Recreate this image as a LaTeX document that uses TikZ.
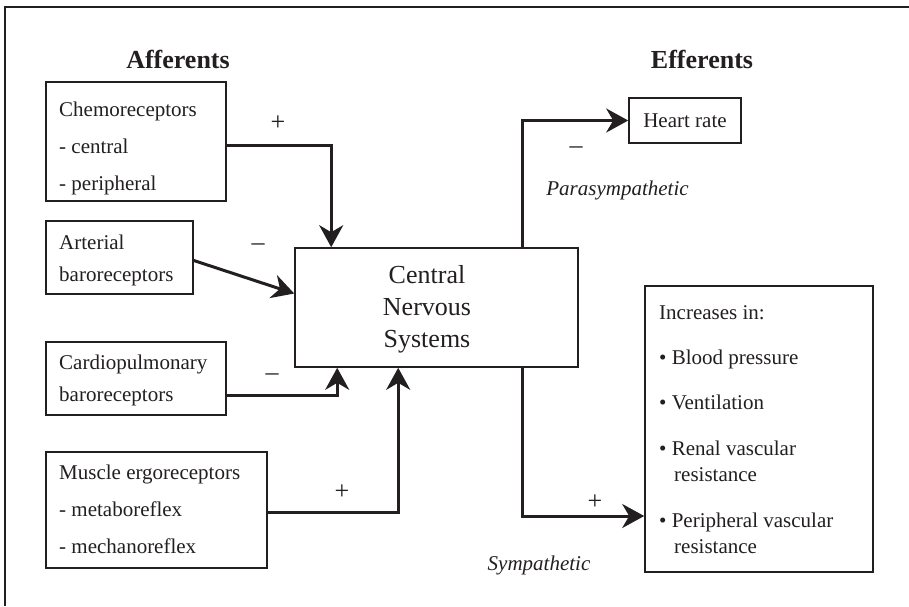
\documentclass[tikz,border=0pt]{standalone}
\usepackage{fontspec}
\setmainfont{Liberation Serif}
\usetikzlibrary{arrows.meta}
\definecolor{ink}{HTML}{231F20}
\tikzset{
  box/.style={draw=ink, line width=1.6pt, inner sep=0pt},
  lbl/.style={anchor=base west, inner sep=0pt, text=ink, font=\fontsize{21}{25}\selectfont},
  sign/.style={inner sep=0pt, text=ink, font=\fontsize{21}{25}\selectfont},
  pm/.style={inner sep=0pt, text=ink, font=\fontsize{26}{30}\selectfont},
  title/.style={inner sep=0pt, text=ink, font=\fontsize{26}{30}\selectfont\bfseries},
  conn/.style={draw=ink, line width=3pt, -{Stealth[length=22pt, width=24pt, inset=7pt]}}
}
\begin{document}
\begin{tikzpicture}[x=1pt, y=-1pt]
\useasboundingbox (0,0) rectangle (909,606);
\fill[white] (0,0) rectangle (909,606);
% frame (top and left)
\draw[ink, line width=2pt] (909,7) -- (5,7) -- (5,606);

% titles
\node[title] (aff) at (178,59) {Afferents};
\node[title] (eff) at (702,59) {Efferents};

% boxes
\node[box, minimum width=180pt, minimum height=119pt] (chemo) at (136,141.5) {};
\node[box, minimum width=147pt, minimum height=73pt] (arterial) at (119.5,257.5) {};
\node[box, minimum width=180pt, minimum height=73pt] (cardio) at (136,378.5) {};
\node[box, minimum width=221pt, minimum height=116pt] (muscle) at (156.5,510) {};
\node[box, minimum width=283pt, minimum height=119pt] (cns) at (436.5,307.5) {};
\node[box, minimum width=112pt, minimum height=45pt] (heart) at (685,120.5) {};
\node[box, minimum width=228pt, minimum height=286pt] (incr) at (759,429) {};

% box texts
\node[lbl] (t1) at (59,116) {Chemoreceptors};
\node[lbl] (t2) at (59,153) {- central};
\node[lbl] (t3) at (59,190) {- peripheral};
\node[lbl] (t4) at (59,249) {Arterial};
\node[lbl] (t5) at (59,281) {baroreceptors};
\node[lbl] (t6) at (59,369) {Cardiopulmonary};
\node[lbl] (t7) at (59,401) {baroreceptors};
\node[lbl] (t8) at (59,479) {Muscle ergoreceptors};
\node[lbl] (t9) at (59,516) {- metaboreflex};
\node[lbl] (t10) at (59,553) {- mechanoreflex};
\node[inner sep=0pt, text=ink, align=center, font=\fontsize{26}{32}\selectfont] (cnst) at (427,309) {Central\\Nervous\\Systems};
\node[sign] (hrt) at (685,121) {Heart rate};
\node[lbl] (i0) at (659,319) {Increases in:};
\node[lbl] (i1) at (659,364) {\textbullet\ Blood pressure};
\node[lbl] (i2) at (659,409) {\textbullet\ Ventilation};
\node[lbl] (i3) at (659,455) {\textbullet\ Renal vascular};
\node[lbl] (i3b) at (674,481) {resistance};
\node[lbl] (i4) at (659,527) {\textbullet\ Peripheral vascular};
\node[lbl] (i4b) at (674,553) {resistance};

% connectors
\draw[conn] ([yshift=-3.5pt]chemo.east) -| ([xshift=37pt]cns.north west);
\draw[conn] ([yshift=-3pt]arterial.east) -- ([yshift=14pt]cns.west);
\draw[conn] ([yshift=-17pt]cardio.east) -| ([xshift=43pt]cns.south west);
\draw[conn] ([yshift=-2pt]muscle.east) -| ([xshift=104pt]cns.south west);
\draw[conn] ([xshift=228pt]cns.north west) |- (heart.west);
\draw[conn] ([xshift=228pt]cns.south west) |- ([yshift=-87pt]incr.west);

% signs and labels
\node[pm] (s1) at (278,123) {+};
\node[pm] (s2) at (258,247) {--};
\node[pm] (s3) at (272,377) {--};
\node[pm] (s4) at (342,492) {+};
\node[pm] (s5) at (576,150) {--};
\node[pm] (s6) at (595,502) {+};
\node[sign, font=\fontsize{21}{25}\selectfont\itshape] (para) at (617.5,190) {Parasympathetic};
\node[sign, font=\fontsize{21}{25}\selectfont\itshape] (symp) at (539,565) {Sympathetic};
\end{tikzpicture}
\end{document}
